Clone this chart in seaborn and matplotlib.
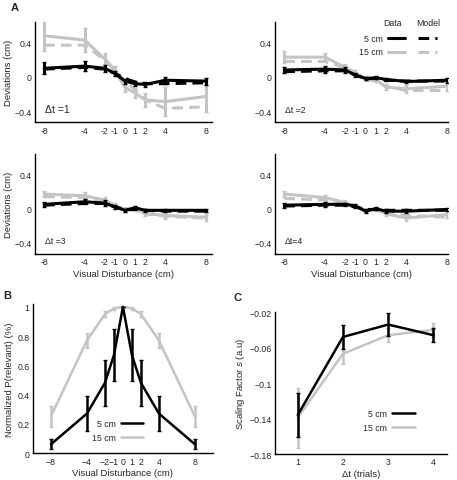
import matplotlib
matplotlib.use('Agg')
import matplotlib.pyplot as plt
from matplotlib.lines import Line2D
import numpy as np
import pandas as pd
import seaborn as sns

# ---- data ----
disturb = [-8, -4, -2, -1, 0, 1, 2, 4, 8]

# panel A, one list per delta t
dev5_data = [
    [0.10, 0.125, 0.10, 0.04, -0.05, -0.08, -0.09, -0.04, -0.05],
    [0.08, 0.09, 0.08, 0.02, -0.02, -0.01, -0.03, -0.055, -0.04],
    [0.05, 0.08, 0.065, 0.02, -0.02, 0.01, -0.02, -0.02, -0.02],
    [0.04, 0.05, 0.05, 0.03, -0.03, 0.0, -0.03, -0.03, -0.01],
]
dev5_err = [
    [0.07, 0.06, 0.04, 0.03, 0.03, 0.03, 0.03, 0.04, 0.04],
    [0.04, 0.04, 0.03, 0.02, 0.02, 0.02, 0.02, 0.02, 0.03],
    [0.03, 0.03, 0.03, 0.02, 0.02, 0.02, 0.02, 0.02, 0.02],
    [0.03, 0.03, 0.02, 0.02, 0.02, 0.02, 0.02, 0.02, 0.02],
]
dev5_model = [
    [0.09, 0.11, 0.09, 0.04, -0.02, -0.06, -0.08, -0.08, -0.07],
    [0.06, 0.07, 0.07, 0.02, -0.02, -0.02, -0.04, -0.05, -0.05],
    [0.04, 0.06, 0.06, 0.02, -0.01, -0.01, -0.02, -0.03, -0.03],
    [0.03, 0.04, 0.04, 0.02, -0.01, -0.01, -0.02, -0.02, -0.02],
]
dev15_data = [
    [0.48, 0.43, 0.21, 0.07, -0.12, -0.19, -0.27, -0.29, -0.23],
    [0.23, 0.23, 0.11, 0.05, -0.02, -0.03, -0.12, -0.14, -0.11],
    [0.17, 0.15, 0.10, 0.04, -0.01, 0.0, -0.06, -0.08, -0.10],
    [0.17, 0.13, 0.07, 0.03, -0.02, -0.01, -0.06, -0.11, -0.07],
]
dev15_err = [
    [0.18, 0.14, 0.07, 0.06, 0.06, 0.06, 0.08, 0.17, 0.18],
    [0.07, 0.05, 0.04, 0.03, 0.03, 0.03, 0.04, 0.05, 0.06],
    [0.04, 0.04, 0.03, 0.03, 0.03, 0.03, 0.03, 0.04, 0.04],
    [0.04, 0.03, 0.03, 0.02, 0.02, 0.02, 0.03, 0.03, 0.04],
]
dev15_model = [
    [0.37, 0.37, 0.20, 0.08, -0.05, -0.15, -0.27, -0.37, -0.35],
    [0.18, 0.18, 0.10, 0.04, -0.03, -0.05, -0.11, -0.16, -0.16],
    [0.14, 0.13, 0.08, 0.03, -0.02, -0.02, -0.06, -0.09, -0.11],
    [0.12, 0.10, 0.06, 0.03, -0.01, -0.02, -0.05, -0.08, -0.10],
]
dt_labels = ['\u0394t =1', '\u0394t =2', '\u0394t =3', '\u0394t=4']

# panel B
prel5 = [0.06, 0.27, 0.48, 0.67, 1.0, 0.67, 0.48, 0.27, 0.06]
prel5_err = [0.035, 0.12, 0.16, 0.18, 0.0, 0.18, 0.16, 0.12, 0.035]
prel15 = [0.25, 0.77, 0.95, 0.99, 1.0, 0.99, 0.95, 0.77, 0.25]
prel15_err = [0.075, 0.05, 0.02, 0.01, 0.0, 0.01, 0.02, 0.05, 0.075]

# panel C
dt_trials = [1, 2, 3, 4]
scale5 = [-0.136, -0.048, -0.034, -0.046]
scale5_err = [0.0245, 0.014, 0.013, 0.008]
scale15 = [-0.139, -0.067, -0.046, -0.040]
scale15_err = [0.034, 0.012, 0.008, 0.008]

BLACK = 'black'
GRAY = '#c4c4c4'
FS = 6.3
DASH = (0, (3.5, 2))

sns.set_style('white')
plt.rcParams['font.family'] = ['Liberation Sans', 'DejaVu Sans']
plt.rcParams['font.size'] = FS
plt.rcParams['axes.unicode_minus'] = True

fig = plt.figure(figsize=(4.57, 4.81), dpi=100)

a_pos = [[0.0766, 0.744, 0.387, 0.208], [0.602, 0.744, 0.378, 0.208],
         [0.0766, 0.470, 0.387, 0.208], [0.602, 0.470, 0.378, 0.208]]
a_xlim = [(-8.9, 8.6), (-8.9, 8.1), (-8.9, 8.6), (-8.9, 8.1)]


def style_ax(ax):
    sns.despine(ax=ax)
    for s in ['left', 'bottom']:
        ax.spines[s].set_linewidth(1.0)
        ax.spines[s].set_color('black')
    ax.tick_params(direction='in', length=2, width=0.8, labelsize=FS, pad=2.5)


for i in range(4):
    ax = fig.add_axes(a_pos[i])
    df = pd.DataFrame({'x': disturb, 'd5': dev5_data[i], 'm5': dev5_model[i],
                       'd15': dev15_data[i], 'm15': dev15_model[i]})
    sns.lineplot(data=df, x='x', y='d15', ax=ax, color=GRAY, lw=2.2)
    ax.errorbar(disturb, dev15_data[i], yerr=dev15_err[i], fmt='none',
                ecolor=GRAY, elinewidth=2.2, capsize=1.5)
    sns.lineplot(data=df, x='x', y='m15', ax=ax, color=GRAY, lw=2.2, linestyle=DASH)
    sns.lineplot(data=df, x='x', y='d5', ax=ax, color=BLACK, lw=2.2)
    ax.errorbar(disturb, dev5_data[i], yerr=dev5_err[i], fmt='none',
                ecolor=BLACK, elinewidth=2.2, capsize=1.5)
    sns.lineplot(data=df, x='x', y='m5', ax=ax, color=BLACK, lw=2.2, linestyle=DASH)
    ax.set_xlim(*a_xlim[i])
    ax.set_ylim(-0.53, 0.64)
    ax.set_xticks(disturb)
    ax.set_xticklabels([str(v) for v in disturb])
    ax.set_yticks([-0.4, 0, 0.4])
    ax.set_yticklabels(['\u22120.4', '0', '0.4'])
    ax.set_xlabel('Visual Disturbance (cm)' if i >= 2 else '', fontsize=6.8, labelpad=2)
    ax.set_ylabel('Deviations (cm)' if i % 2 == 0 else '', fontsize=6.8, labelpad=1)
    ax.text(0.055, 0.13, dt_labels[i], transform=ax.transAxes,
            fontsize=7.6 if i == 0 else FS, ha='left', va='center')
    style_ax(ax)

# legend of panel A drawn as a small table
fig.text(392 / 457, 1 - 24 / 481, 'Data', ha='center', va='center', fontsize=FS)
fig.text(428 / 457, 1 - 24 / 481, 'Model', ha='center', va='center', fontsize=FS)
fig.text(383 / 457, 1 - 39 / 481, '5 cm', ha='right', va='center', fontsize=FS)
fig.text(383 / 457, 1 - 53 / 481, '15 cm', ha='right', va='center', fontsize=FS)
for yy, col in [(39, BLACK), (53, GRAY)]:
    fig.add_artist(Line2D([388 / 457, 405 / 457], [1 - yy / 481] * 2, color=col, lw=2.2))
    fig.add_artist(Line2D([418 / 457, 437 / 457], [1 - yy / 481] * 2, color=col, lw=2.2,
                          linestyle=DASH))

# panel B
axb = fig.add_axes([0.072, 0.056, 0.394, 0.310])
dfb = pd.DataFrame({'x': disturb, '5 cm': prel5, '15 cm': prel15})
sns.lineplot(data=dfb, x='x', y='15 cm', ax=axb, color=GRAY, lw=1.8, label='15 cm')
axb.errorbar(disturb, prel15, yerr=prel15_err, fmt='none', ecolor=GRAY, elinewidth=1.8, capsize=1.5)
sns.lineplot(data=dfb, x='x', y='5 cm', ax=axb, color=BLACK, lw=1.8, label='5 cm')
axb.errorbar(disturb, prel5, yerr=prel5_err, fmt='none', ecolor=BLACK, elinewidth=1.8, capsize=1.5)
axb.set_xlim(-10, 10)
axb.set_ylim(0, 1.02)
axb.set_xticks(disturb)
axb.set_xticklabels([('\u2212' + str(-v)) if v < 0 else str(v) for v in disturb])
axb.set_yticks([0, 0.2, 0.4, 0.6, 0.8, 1])
axb.set_yticklabels(['0', '0.2', '0.4', '0.6', '0.8', '1'])
axb.set_xlabel('Visual Disturbance (cm)', fontsize=6.8, labelpad=2)
axb.set_ylabel('Normalized P(relevant) (%)', fontsize=6.8, labelpad=2)
h, l = axb.get_legend_handles_labels()
axb.legend(h[::-1], l[::-1], loc='lower center', bbox_to_anchor=(0.47, 0.02), frameon=False,
           markerfirst=False, fontsize=FS, handlelength=2.6, handletextpad=0.6, labelspacing=0.6)
style_ax(axb)

# panel C
axc = fig.add_axes([0.602, 0.054, 0.376, 0.295])
dfc = pd.DataFrame({'dt': dt_trials, '5 cm': scale5, '15 cm': scale15})
sns.lineplot(data=dfc, x='dt', y='15 cm', ax=axc, color=GRAY, lw=1.8, label='15 cm')
axc.errorbar(dt_trials, scale15, yerr=scale15_err, fmt='none', ecolor=GRAY, elinewidth=1.8, capsize=1.5)
sns.lineplot(data=dfc, x='dt', y='5 cm', ax=axc, color=BLACK, lw=1.8, label='5 cm')
axc.errorbar(dt_trials, scale5, yerr=scale5_err, fmt='none', ecolor=BLACK, elinewidth=1.8, capsize=1.5)
axc.set_xlim(0.5, 4.3)
axc.set_ylim(-0.18, -0.02)
axc.set_xticks(dt_trials)
axc.set_yticks([-0.18, -0.14, -0.1, -0.06, -0.02])
axc.set_yticklabels(['\u22120.18', '\u22120.14', '\u22120.1', '\u22120.06', '\u22120.02'])
axc.set_xlabel('\u0394t (trials)', fontsize=6.8, labelpad=2)
axc.set_ylabel('Scaling Factor $s$ (a.u)', fontsize=6.8, labelpad=2)
h, l = axc.get_legend_handles_labels()
axc.legend(h[::-1], l[::-1], loc='lower right', bbox_to_anchor=(0.86, 0.1), frameon=False,
           markerfirst=False, fontsize=FS, handlelength=2.6, handletextpad=0.6, labelspacing=0.6)
style_ax(axc)

# panel letters
fig.text(15 / 457, 1 - 8 / 481, 'A', fontsize=8, fontweight='bold', ha='center', va='center')
fig.text(7 / 457, 1 - 296 / 481, 'B', fontsize=8, fontweight='bold', ha='center', va='center')
fig.text(237 / 457, 1 - 298 / 481, 'C', fontsize=8, fontweight='bold', ha='center', va='center')

fig.savefig('out.png', dpi=100)
